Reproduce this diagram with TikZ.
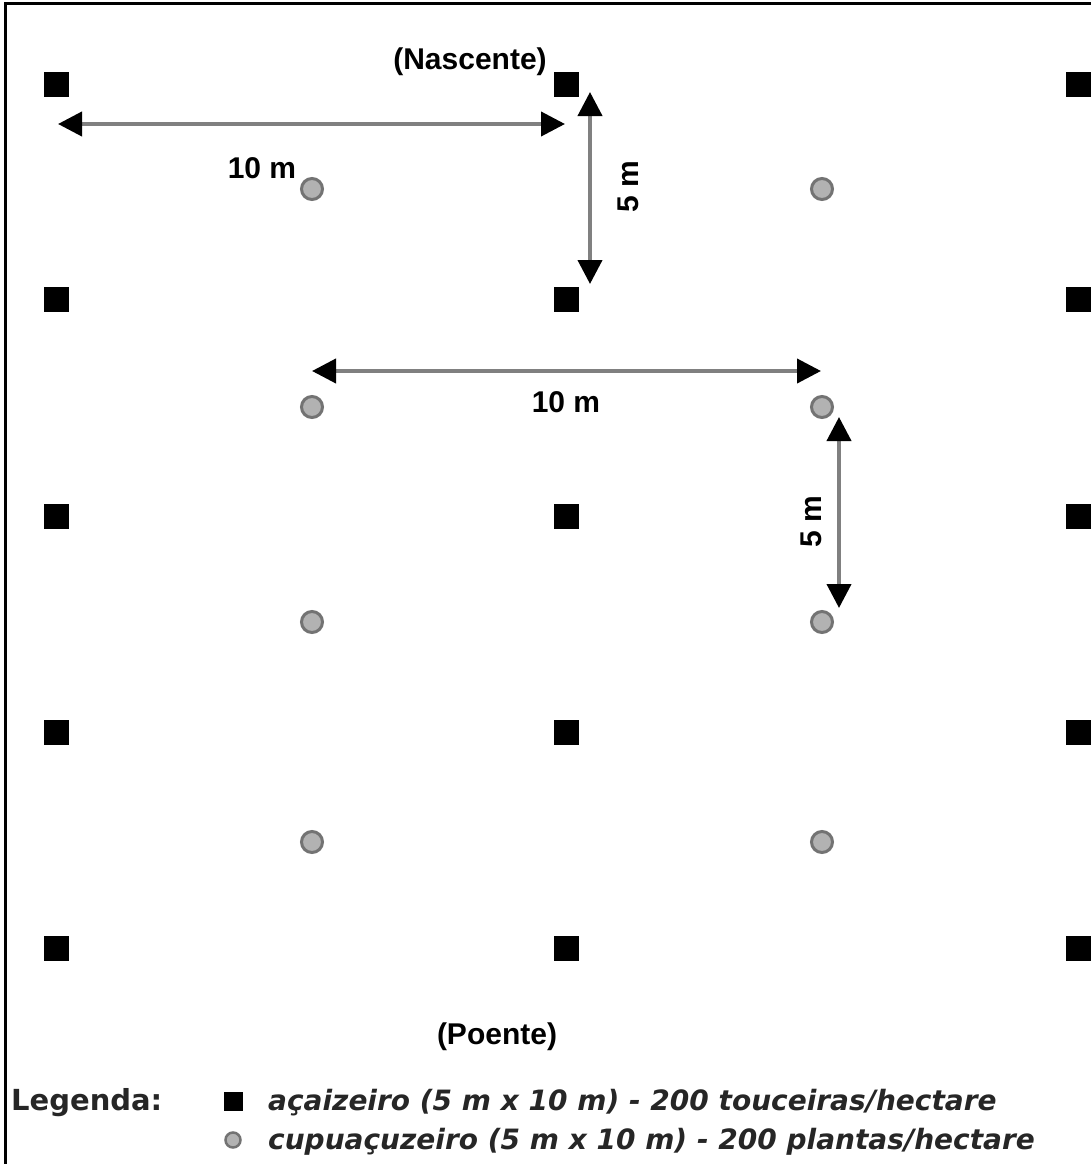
\documentclass[tikz,border=0pt]{standalone}
\usepackage{fontspec}
\setmainfont{Liberation Sans}
\newfontfamily\legfont{DejaVu Sans}
\usetikzlibrary{arrows.meta}
\begin{document}
\begin{tikzpicture}[x=1pt,y=-1pt,
  acai/.style={rectangle,fill=black,minimum size=25pt,inner sep=0pt},
  cupu/.style={circle,fill=black!30,draw=black!55,line width=3pt,minimum size=21pt,inner sep=0pt},
  dimline/.style={draw=black!50,line width=4pt,{Triangle[length=24pt,width=24pt,color=black]}-{Triangle[length=24pt,width=24pt,color=black]}},
  lbl/.style={font=\fontsize{30}{34}\selectfont\bfseries,inner sep=0pt},
  legtxt/.style={font=\legfont\fontsize{28}{31}\selectfont\bfseries\itshape,text=black!85,inner sep=0pt,anchor=west},
]
\useasboundingbox (0,0) rectangle (1090,1164);
\fill[white] (0,0) rectangle (1090,1164);
\draw[line width=3pt] (5,1170) -- (5,4) -- (1095,4);
% acaizeiro grid
\foreach \r/\y in {1/84,2/299,3/516,4/732,5/948}
  \foreach \c/\x in {1/56,2/566,3/1078}
    \node[acai] (a\r\c) at (\x,\y) {};
% cupuacuzeiro grid
\foreach \r/\y in {1/189,2/407,3/622,4/842}
  \foreach \c/\x in {1/312,2/822}
    \node[cupu] (c\r\c) at (\x,\y) {};
% dimension arrows
\coordinate (h1a) at (58,124);
\coordinate (h1b) at (565,124);
\coordinate (v1a) at (590,92);
\coordinate (v1b) at (590,284);
\coordinate (h2a) at (312,371);
\coordinate (h2b) at (821,371);
\coordinate (v2a) at (839,417);
\coordinate (v2b) at (839,608);
\draw[dimline] (h1a) -- (h1b);
\draw[dimline] (v1a) -- (v1b);
\draw[dimline] (h2a) -- (h2b);
\draw[dimline] (v2a) -- (v2b);
% labels
\node[lbl] (l10a) at (262,168) {10 m};
\node[lbl] (nasc) at (470,62) {(Nascente)};
\node[lbl,rotate=90] (l5a) at (628,187) {5 m};
\node[lbl] (l10b) at (566,402) {10 m};
\node[lbl,rotate=90] (l5b) at (811,522) {5 m};
\node[lbl] (poente) at (497,1037) {(Poente)};
% legend
\node[font=\legfont\fontsize{29}{31}\selectfont\bfseries,text=black!85,inner sep=0pt,anchor=west] (leg) at (11,1103) {Legenda:};
\node[rectangle,fill=black,minimum size=19pt,inner sep=0pt] (legsq) at (233,1101) {};
\node[circle,fill=black!30,draw=black!55,line width=2.5pt,minimum size=15pt,inner sep=0pt] (legci) at (233,1140) {};
\node[legtxt] (legt1) at (268,1103) {açaizeiro (5 m x 10 m) - 200 touceiras/hectare};
\node[legtxt] (legt2) at (268,1142) {cupuaçuzeiro (5 m x 10 m) - 200 plantas/hectare};
\end{tikzpicture}
\end{document}
